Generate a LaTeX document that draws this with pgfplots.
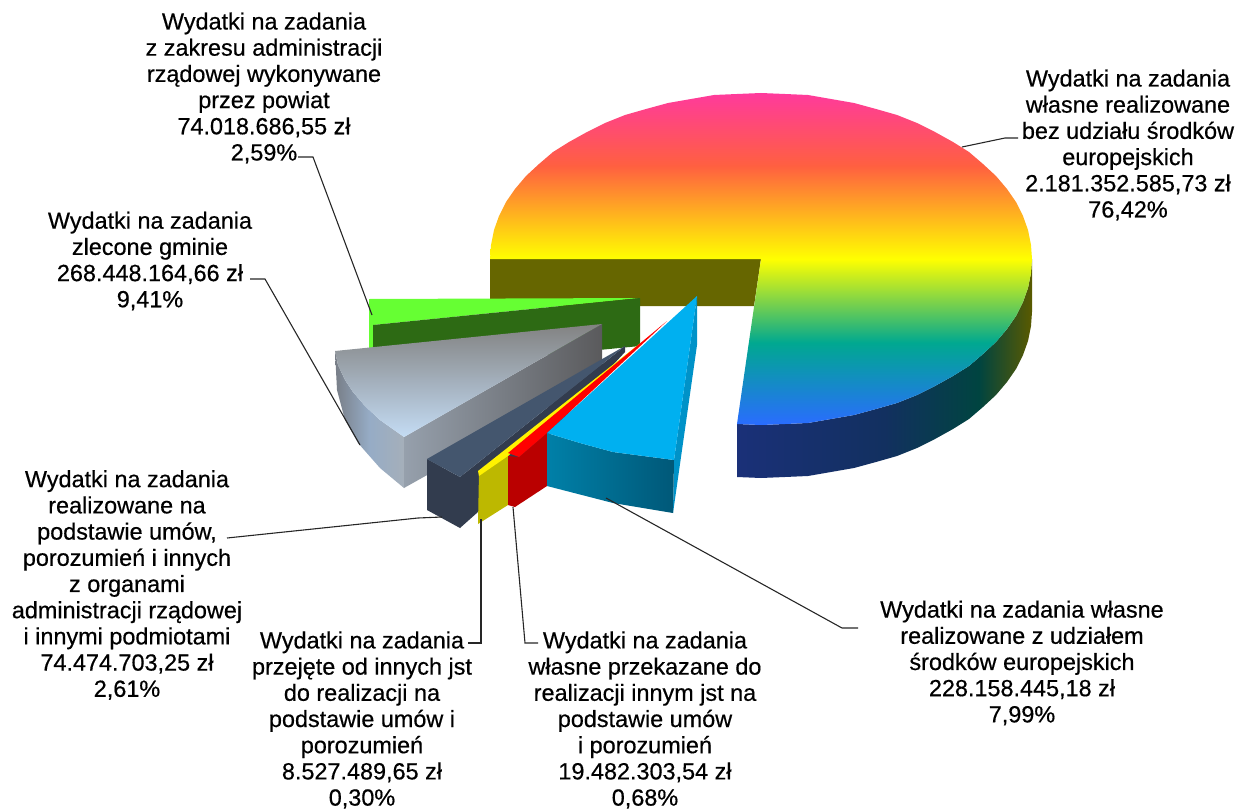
\documentclass[border=0pt]{standalone}
\usepackage{fontspec}
\setmainfont[FakeBold=0.5]{Liberation Sans}
\usepackage{pgfplots}
\pgfplotsset{compat=1.18}

% rainbow on the big slice, side walls shade left to right
\pgfdeclareverticalshading{bigtop}{100bp}{rgb(0bp)=(.165,.424,1); rgb(25bp)=(.165,.424,1); rgb(37.4bp)=(0,.659,.565); rgb(50bp)=(1,1,0); rgb(64bp)=(1,.376,.251); rgb(75bp)=(1,.227,.612); rgb(100bp)=(1,.227,.612)}
\pgfdeclarehorizontalshading{bigside}{100bp}{rgb(0bp)=(.102,.188,.471); rgb(25bp)=(.102,.188,.471); rgb(50bp)=(.071,.188,.376); rgb(66bp)=(0,.267,.251); rgb(75bp)=(.353,.353,0); rgb(100bp)=(.353,.353,0)}
\pgfdeclareverticalshading{greytop}{100bp}{rgb(0bp)=(.769,.863,.957); rgb(25bp)=(.769,.863,.957); rgb(75bp)=(.51,.51,.51); rgb(100bp)=(.51,.51,.51)}
\pgfdeclarehorizontalshading{greywall}{100bp}{rgb(0bp)=(.588,.627,.675); rgb(25bp)=(.588,.627,.675); rgb(75bp)=(.353,.353,.361); rgb(100bp)=(.353,.353,.361)}
\pgfdeclarehorizontalshading{greyside}{100bp}{rgb(0bp)=(.471,.494,.529); rgb(25bp)=(.471,.494,.529); rgb(50bp)=(.588,.675,.776); rgb(75bp)=(.647,.686,.729); rgb(100bp)=(.647,.686,.729)}
\pgfdeclarehorizontalshading{blueside}{100bp}{rgb(0bp)=(0,.502,.659); rgb(25bp)=(0,.502,.659); rgb(75bp)=(0,.345,.471); rgb(100bp)=(0,.345,.471)}

\definecolor{olivewall}{RGB}{102,102,0}
\definecolor{greentop}{RGB}{102,255,51}
\definecolor{greenwall}{RGB}{45,106,20}
\definecolor{slatetop}{RGB}{68,86,110}
\definecolor{slatedark}{RGB}{50,60,78}
\definecolor{yellowwall}{RGB}{189,184,0}
\definecolor{redwall}{RGB}{186,0,0}
\definecolor{blueface}{RGB}{0,176,240}
\definecolor{bluewall}{RGB}{0,146,200}

\tikzset{
	slice/.style={draw=none},
	leader/.style={draw=black!85, line width=1.1pt},
	lab/.style={font=\fontsize{23.5}{26.3}\selectfont, align=center, anchor=center, inner sep=0pt},
}

\begin{document}
\begin{tikzpicture}
\begin{axis}[
	anchor=south west, at={(0,0)},
	scale only axis, width=1248bp, height=809bp,
	xmin=0, xmax=1248, ymin=0, ymax=809, y dir=reverse,
	hide axis, clip=false, no markers,
]
\addplot[draw=none] coordinates {(0,0) (1248,809)};

% big slice, 76,42%
\addplot[slice, fill=olivewall] coordinates {(490,259) (761,259) (754,306) (490,306)};
\addplot[slice, shade, shading=bigside] coordinates {
	(1032,259) (1031,273) (1028,288) (1023,302) (1016,316) (1007,329) (996,342) (983,354) (969,366)
	(953,376) (935,386) (917,395) (897,403) (876,409) (854,415) (831,419) (808,423) (785,424) (761,425) (737,424)
	(737,477) (761,478) (785,477) (808,476) (831,472) (854,468) (876,462) (897,456) (917,448) (935,439)
	(953,429) (969,419) (983,407) (996,395) (1007,382) (1016,369) (1023,355) (1028,341) (1031,326) (1032,312)};
\addplot[slice, shade, shading=bigtop] coordinates {
	(761,259) (490,259) (491,245) (494,230) (499,216) (506,202) (515,189) (526,176) (539,164) (553,152) (569,142)
	(587,132) (605,123) (625,115) (646,109) (668,103) (691,99) (714,95) (737,94) (761,93)
	(785,94) (808,95) (831,99) (854,103) (876,109) (897,115) (917,123) (935,132) (953,142) (969,152)
	(983,164) (996,176) (1007,189) (1016,202) (1023,216) (1028,230) (1031,245) (1032,259)
	(1031,273) (1028,288) (1023,302) (1016,316) (1007,329) (996,342) (983,354) (969,366)
	(953,376) (935,386) (917,395) (897,403) (876,409) (854,415) (831,419) (808,423) (785,424) (761,425) (737,424)};

% green, 2,59%
\addplot[slice, fill=greentop] coordinates {(369,299) (640,298) (373,325) (373,350) (369,350)};
\addplot[slice, fill=greenwall] coordinates {(640,298) (640,346) (373,372) (373,325)};

% grey, 9,41%
\addplot[slice, shade, shading=greyside] coordinates {(335,351) (338,365) (345,380) (353,392) (365,406) (380,420) (404,437) (404,488) (380,468) (358,443) (345,420) (337,390)};
\addplot[slice, shade, shading=greywall] coordinates {(602,324) (602,377) (404,488) (404,437)};
\addplot[slice, shade, shading=greytop] coordinates {(335,351) (602,324) (404,437) (380,420) (365,406) (353,392) (345,380) (338,365)};

% slate, 2,61%
\addplot[slice, fill=slatedark] coordinates {(460,477) (625,346) (625,352) (478,512) (460,528)};
\addplot[slice, fill=slatedark] coordinates {(427,459) (460,477) (460,528) (427,510)};
\addplot[slice, fill=slatetop] coordinates {(427,459) (625,346) (460,477)};

% yellow, 0,30%
\addplot[slice, fill=yellowwall] coordinates {(479,472) (508,452) (508,505) (478,524)};
\addplot[slice, fill=yellow] coordinates {(478,471) (643,341) (508,456) (479,476)};

% red, 0,68%
\addplot[slice, fill=redwall] coordinates {(508,456) (519,457) (547,433) (547,486) (515,507) (508,505)};
\addplot[slice, fill=red] coordinates {(508,453) (667,321) (547,433) (519,457)};

% blue, 7,99%
\addplot[slice, fill=bluewall] coordinates {(697,296) (697,345) (673,513) (674,460)};
\addplot[slice, shade, shading=blueside] coordinates {(547,433) (580,443) (613,452) (674,460) (673,513) (613,503) (547,486)};
\addplot[slice, fill=blueface] coordinates {(547,433) (697,296) (674,460) (613,452) (580,443)};

% leader lines
\addplot[leader] coordinates {(962,147) (1005,138) (1018,138)};
\addplot[leader] coordinates {(298,157) (313,157) (372,315)};
\addplot[leader] coordinates {(250,279) (265,279) (360,445)};
\addplot[leader] coordinates {(227,538) (418,518) (442,517)};
\addplot[leader] coordinates {(468,643) (481,643) (481,519)};
\addplot[leader] coordinates {(513,507) (525,643) (538,643)};
\addplot[leader] coordinates {(606,498) (842,628) (858,628)};

% labels
\node[lab] at (axis cs:264,88) {Wydatki na zadania\\z zakresu administracji\\rządowej wykonywane\\przez powiat\\74.018.686,55 zł\\2,59\%};
\node[lab] at (axis cs:150,261) {Wydatki na zadania\\zlecone gminie\\268.448.164,66 zł\\9,41\%};
\node[lab] at (axis cs:1128,145) {Wydatki na zadania\\własne realizowane\\bez udziału środków\\europejskich\\2.181.352.585,73 zł\\76,42\%};
\node[lab] at (axis cs:127,585) {Wydatki na zadania\\realizowane na\\podstawie umów,\\porozumień i innych\\z organami\\administracji rządowej\\i innymi podmiotami\\74.474.703,25 zł\\2,61\%};
\node[lab] at (axis cs:362,720) {Wydatki na zadania\\przejęte od innych jst\\do realizacji na\\podstawie umów i\\porozumień\\8.527.489,65 zł\\0,30\%};
\node[lab] at (axis cs:645,720) {Wydatki na zadania\\własne przekazane do\\realizacji innym jst na\\podstawie umów\\i porozumień\\19.482.303,54 zł\\0,68\%};
\node[lab] at (axis cs:1022,663) {Wydatki na zadania własne\\realizowane z udziałem\\środków europejskich\\228.158.445,18 zł\\7,99\%};
\end{axis}
\end{tikzpicture}
\end{document}
